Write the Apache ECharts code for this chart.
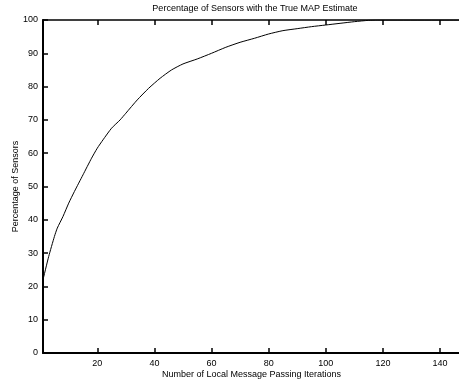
<!DOCTYPE html>
<html>
<head>
<meta charset="utf-8">
<script src="https://cdn.jsdelivr.net/npm/echarts@6/dist/echarts.min.js"></script>
<style>
html,body{margin:0;padding:0;background:#fff;}
#chart{width:459px;height:385px;}
</style>
</head>
<body>
<div id="chart"></div>
<script>
const iterations = [1, 3, 5, 6, 8, 10, 12, 15, 18, 20, 22, 25, 28, 30, 34, 38, 42, 46, 50, 55, 60, 65, 70, 75, 80, 85, 90, 95, 100, 105, 110, 115, 118, 147];
const percentSensors = [22, 29, 35, 37.5, 41, 45, 48.5, 53.5, 58.5, 61.5, 64, 67.5, 70, 72, 76, 79.5, 82.5, 85, 86.8, 88.3, 90, 91.8, 93.3, 94.5, 95.8, 96.8, 97.4, 98, 98.5, 99, 99.5, 99.9, 100, 100];
const xTicks = [20, 40, 60, 80, 100, 120, 140];
const titleText = 'Percentage of Sensors with the True MAP Estimate';
const xName = 'Number of Local Message Passing Iterations';
const yName = 'Percentage of Sensors';

const font = 'Liberation Sans, Arial, Helvetica, sans-serif';
const chart = echarts.init(document.getElementById('chart'), null, {renderer: 'canvas'});
const labelStyle = {color: '#000', fontSize: 9, fontFamily: font};

chart.setOption({
  animation: false,
  backgroundColor: '#fff',
  title: {
    text: titleText,
    left: 255, top: 4, textAlign: 'center', padding: 0,
    textStyle: {fontSize: 9, fontWeight: 'normal', color: '#000', fontFamily: font}
  },
  grid: {left: 43, right: -1, top: 20, bottom: 32, show: false, containLabel: false, outerBoundsMode: 'none'},
  xAxis: [{
    type: 'value', min: 1, max: 147,
    name: xName, nameLocation: 'middle', nameGap: 17, nameMoveOverlap: false,
    nameTextStyle: labelStyle,
    axisLine: {show: true, onZero: false, lineStyle: {color: '#000', width: 2}},
    axisTick: {show: true, inside: true, length: 5, customValues: xTicks, lineStyle: {color: '#000', width: 1.5}},
    axisLabel: {customValues: xTicks, margin: 6, ...labelStyle},
    splitLine: {show: false},
    z: 10
  }, {
    type: 'value', min: 1, max: 147, position: 'top',
    axisLine: {show: true, onZero: false, lineStyle: {color: '#000', width: 1.5}},
    axisTick: {show: true, inside: true, length: 5, customValues: xTicks, lineStyle: {color: '#000', width: 1.5}},
    axisLabel: {show: false, customValues: xTicks},
    splitLine: {show: false},
    z: 10
  }],
  yAxis: [{
    type: 'value', min: 0, max: 100, interval: 10,
    name: yName, nameLocation: 'middle', nameGap: 23, nameRotate: 90, nameMoveOverlap: false,
    nameTextStyle: labelStyle,
    axisLine: {show: true, onZero: false, lineStyle: {color: '#000', width: 2}},
    axisTick: {show: true, inside: true, length: 5, lineStyle: {color: '#000', width: 1.5}},
    axisLabel: {margin: 5, ...labelStyle},
    splitLine: {show: false},
    z: 10
  }],
  series: [{
    type: 'line',
    data: iterations.map((x, i) => [x, percentSensors[i]]),
    showSymbol: false,
    smooth: 0.2,
    lineStyle: {color: '#000', width: 1},
    clip: true
  }]
});
</script>
</body>
</html>
